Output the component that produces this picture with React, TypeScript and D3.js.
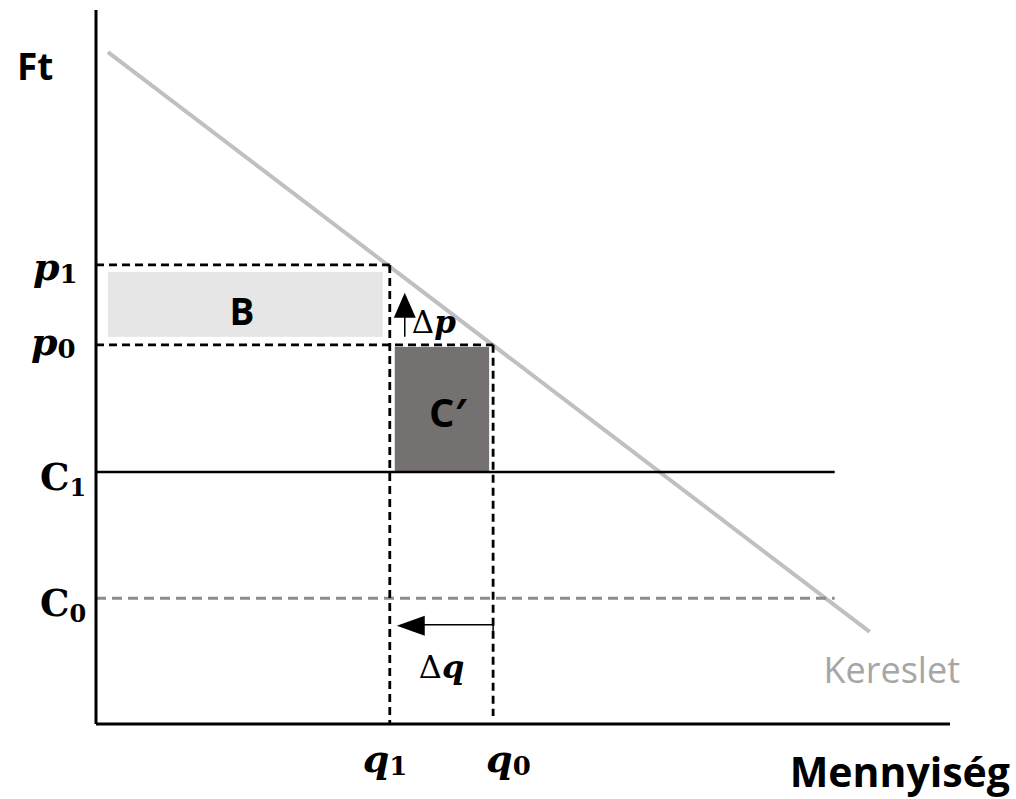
import * as d3 from "d3";

// economic values in abstract units (quantity 0..100, price 0..100)
const quantities = { q1: 34.4, q0: 46.5 };
const prices = { p1: 64.3, p0: 53.1, c1: 35.3, c0: 17.6 };
const demand = [
  { q: 1.4, p: 94.1 },
  { q: 90.6, p: 12.9 },
];
const costLineEnd = 86.5;
const arrowLevel = 13.9; // price level of the Δq arrow
const axisTop = 100;
const axisRight = 100;

const W = 1016;
const H = 799;

const serif = "'DejaVu Serif', 'Liberation Serif', serif";
const sans = "'Open Sans', Lato, 'Liberation Sans', sans-serif";

export default function App() {
  const x = d3.scaleLinear().domain([0, 100]).range([96, 950]);
  const y = d3.scaleLinear().domain([0, 100]).range([724, 10]);

  const line = d3
    .line<{ q: number; p: number }>()
    .x((d) => x(d.q))
    .y((d) => y(d.p));

  const xq1 = x(quantities.q1);
  const xq0 = x(quantities.q0);
  const yp1 = y(prices.p1);
  const yp0 = y(prices.p0);
  const yc1 = y(prices.c1);
  const yc0 = y(prices.c0);
  const ya = y(arrowLevel);

  const dash = "8,5";

  return (
    <svg width={W} height={H} style={{ position: "absolute", left: 0, top: 0 }}>
      <rect width={W} height={H} fill="#fff" />

      {/* B area */}
      <rect
        x={x(0) + 12}
        y={yp1 + 7}
        width={xq1 - 7 - (x(0) + 12)}
        height={yp0 - 8 - (yp1 + 7)}
        fill="#e6e6e6"
      />
      {/* C' area */}
      <rect x={xq1 + 5} y={yp0 + 2} width={xq0 - 4 - (xq1 + 5)} height={yc1 - yp0 - 2} fill="#767171" />

      {/* demand */}
      <path d={line(demand) ?? ""} stroke="#c0c0c0" strokeWidth={4} fill="none" />

      {/* C1 solid, C0 dashed */}
      <line x1={x(0)} x2={x(costLineEnd)} y1={yc1} y2={yc1} stroke="#000" strokeWidth={2.5} />
      <line
        x1={x(0)}
        x2={x(costLineEnd)}
        y1={yc0}
        y2={yc0}
        stroke="#8c8c8c"
        strokeWidth={3}
        strokeDasharray="10,6"
      />

      {/* dashed guides */}
      <g stroke="#000" strokeWidth={2.8} strokeDasharray={dash} fill="none">
        <line x1={x(0)} x2={xq1} y1={yp1} y2={yp1} />
        <line x1={x(0)} x2={xq0} y1={yp0} y2={yp0} />
        <line x1={xq1} x2={xq1} y1={yp1} y2={y(0)} />
        <line x1={xq0} x2={xq0} y1={yp0} y2={y(0) - 8} />
      </g>

      {/* axes */}
      <line x1={x(0)} x2={x(0)} y1={y(axisTop)} y2={y(0)} stroke="#000" strokeWidth={3} />
      <line x1={x(0)} x2={x(axisRight)} y1={y(0)} y2={y(0)} stroke="#000" strokeWidth={3} />

      {/* delta p arrow */}
      <line x1={xq1 + 15} x2={xq1 + 15} y1={yp0 - 8} y2={yp0 - 30} stroke="#000" strokeWidth={1.5} />
      <path
        d={`M${xq1 + 15},${yp0 - 52} L${xq1 + 4},${yp0 - 27} L${xq1 + 26},${yp0 - 27} Z`}
        fill="#000"
      />
      <text x={xq1 + 22} y={yp0 - 12} fontFamily={serif} fontSize={31}>
        <tspan>Δ</tspan>
        <tspan fontStyle="italic" fontWeight="bold">p</tspan>
      </text>

      {/* delta q arrow */}
      <path d={`M${xq1 + 30},${ya} H${xq0} V${ya + 6}`} stroke="#000" strokeWidth={1.5} fill="none" />
      <path d={`M${xq1 + 7},${ya + 1} L${xq1 + 35},${ya - 9} L${xq1 + 35},${ya + 11} Z`} fill="#000" />
      <text x={xq1 + 29} y={678} fontFamily={serif} fontSize={32}>
        <tspan>Δ</tspan>
        <tspan fontStyle="italic" fontWeight="bold">q</tspan>
      </text>

      {/* area labels */}
      <text x={242} y={325} textAnchor="middle" fontFamily={sans} fontWeight="bold" fontSize={37}>
        B
      </text>
      <text x={429} y={427} fontFamily={sans} fontWeight="bold" fontSize={40}>
        C′
      </text>

      {/* axis labels */}
      <text x={17} y={80} fontFamily={sans} fontWeight="bold" fontSize={37}>
        Ft
      </text>
      <text x={1010} y={787} textAnchor="end" fontFamily={sans} fontWeight="bold" fontSize={41}>
        Mennyiség
      </text>
      <text x={960} y={683} textAnchor="end" fontFamily={sans} fontSize={36} fill="#a6a6a6">
        Kereslet
      </text>

      {/* price labels */}
      <g fontFamily={serif} fontWeight="bold">
        <text x={33} y={yp1 + 15} fontSize={38}>
          <tspan fontStyle="italic">p</tspan>
          <tspan fontSize={26} dy={3}>1</tspan>
        </text>
        <text x={31} y={yp0 + 10} fontSize={38}>
          <tspan fontStyle="italic">p</tspan>
          <tspan fontSize={26} dy={3}>0</tspan>
        </text>
        <text x={40} y={yc1 + 18} fontSize={37}>
          <tspan>C</tspan>
          <tspan fontSize={24} dy={6}>1</tspan>
        </text>
        <text x={40} y={yc0 + 18} fontSize={37}>
          <tspan>C</tspan>
          <tspan fontSize={24} dy={6}>0</tspan>
        </text>
        <text x={xq1 - 27} y={772} fontSize={38}>
          <tspan fontStyle="italic">q</tspan>
          <tspan fontSize={26} dy={3}>1</tspan>
        </text>
        <text x={xq0 - 7} y={772} fontSize={38}>
          <tspan fontStyle="italic">q</tspan>
          <tspan fontSize={26} dy={3}>0</tspan>
        </text>
      </g>
    </svg>
  );
}
